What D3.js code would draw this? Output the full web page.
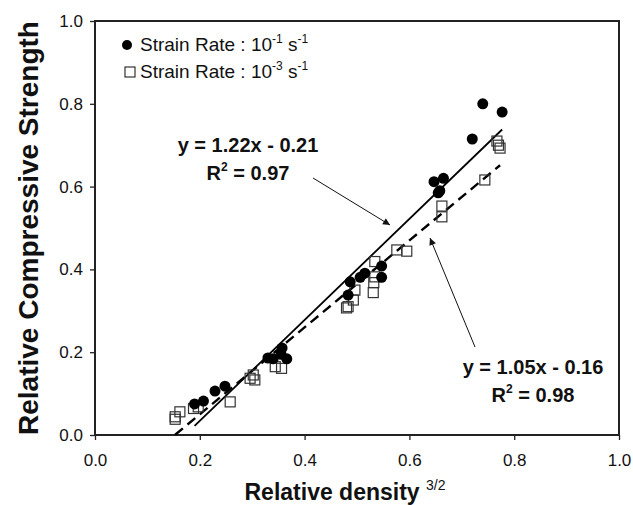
<!DOCTYPE html>
<html>
<head>
<meta charset="utf-8">
<script src="https://cdn.jsdelivr.net/npm/d3@7"></script>
<style>
  body { margin: 0; background: #fff; }
  svg { font-family: Arial, "Liberation Sans", sans-serif; }
</style>
</head>
<body>
<div id="grafico"></div>
<script>
// Strain rate 10^-1 s^-1 (filled circles)
const rapido = [
  [0.19,0.075],[0.207,0.082],[0.229,0.106],[0.248,0.118],[0.33,0.186],[0.34,0.184],
  [0.355,0.195],[0.357,0.21],[0.366,0.184],[0.483,0.338],[0.487,0.37],[0.506,0.381],
  [0.515,0.391],[0.547,0.408],[0.547,0.381],[0.655,0.585],[0.658,0.59],[0.647,0.612],
  [0.665,0.62],[0.72,0.715],[0.74,0.8],[0.777,0.78]
];
// Strain rate 10^-3 s^-1 (open squares)
const lento = [
  [0.153,0.038],[0.153,0.044],[0.162,0.056],[0.188,0.064],[0.197,0.068],[0.258,0.08],
  [0.296,0.137],[0.302,0.145],[0.305,0.133],[0.344,0.165],[0.356,0.161],[0.48,0.307],
  [0.483,0.31],[0.493,0.326],[0.496,0.35],[0.531,0.344],[0.532,0.368],[0.534,0.382],
  [0.534,0.419],[0.576,0.447],[0.595,0.444],[0.662,0.527],[0.662,0.553],[0.744,0.616],
  [0.767,0.71],[0.77,0.70],[0.773,0.693]
];
// trend lines: [slope, intercept, xStart, xEnd]
const ajusteRapido = [1.22, -0.21, 0.19, 0.777];
const ajusteLento = [1.05, -0.16, 0.153, 0.773];
const ticks = [0, 0.2, 0.4, 0.6, 0.8, 1.0];

const width = 633;
const height = 505;
const marginTop = 21;
const marginRight = 14;
const marginBottom = 70;
const marginLeft = 95;

const xScale = d3.scaleLinear().domain([0, 1]).range([marginLeft, width - marginRight]);
const yScale = d3.scaleLinear().domain([0, 1]).range([height - marginBottom, marginTop]);

const svg = d3.select("#grafico")
  .append("svg")
  .attr("width", width)
  .attr("height", height);

svg.append("defs").append("marker")
  .attr("id", "flecha")
  .attr("viewBox", "0 0 10 10")
  .attr("refX", 10).attr("refY", 5)
  .attr("markerWidth", 9).attr("markerHeight", 7)
  .attr("markerUnits", "userSpaceOnUse")
  .attr("orient", "auto")
  .append("path").attr("d", "M0,0 L10,5 L0,10 z").attr("fill", "#111");

// axes
const xAxis = d3.axisBottom(xScale).tickValues(ticks).tickFormat(d3.format(".1f"))
  .tickSize(5).tickSizeOuter(0).tickPadding(14);
const gx = svg.append("g")
  .attr("transform", `translate(0,${height - marginBottom})`)
  .call(xAxis);

const yAxis = d3.axisLeft(yScale).tickValues(ticks).tickFormat(d3.format(".1f"))
  .tickSize(5).tickSizeOuter(0).tickPadding(7);
const gy = svg.append("g")
  .attr("transform", `translate(${marginLeft},0)`)
  .call(yAxis);

[gx, gy].forEach(g => {
  g.select(".domain").remove();
  g.selectAll("line").attr("stroke", "#222").attr("stroke-width", 1.3);
  g.selectAll("text").attr("font-size", 17).attr("fill", "#111")
    .attr("font-family", "Arial, 'Liberation Sans', sans-serif");
});

// frame
svg.append("rect")
  .attr("x", marginLeft).attr("y", marginTop)
  .attr("width", width - marginRight - marginLeft)
  .attr("height", height - marginBottom - marginTop)
  .attr("fill", "none").attr("stroke", "#222").attr("stroke-width", 2);

// trend lines
const linea = (a) => [[a[2], a[0] * a[2] + a[1]], [a[3], a[0] * a[3] + a[1]]];
const trazo = d3.line().x(d => xScale(d[0])).y(d => yScale(d[1]));

svg.append("path").attr("d", trazo(linea(ajusteRapido)))
  .attr("stroke", "#000").attr("stroke-width", 1.8).attr("fill", "none");
svg.append("path").attr("d", trazo(linea(ajusteLento)))
  .attr("stroke", "#000").attr("stroke-width", 2.4).attr("fill", "none")
  .attr("stroke-dasharray", "10,6");

// squares
svg.selectAll("rect.lento")
  .data(lento)
  .enter()
  .append("rect")
  .attr("class", "lento")
  .attr("x", d => xScale(d[0]) - 5)
  .attr("y", d => yScale(d[1]) - 5)
  .attr("width", 10).attr("height", 10)
  .attr("fill", "none").attr("stroke", "#333").attr("stroke-width", 1.2);

// circles
svg.selectAll("circle.rapido")
  .data(rapido)
  .enter()
  .append("circle")
  .attr("class", "rapido")
  .attr("cx", d => xScale(d[0]))
  .attr("cy", d => yScale(d[1]))
  .attr("r", 5.5)
  .attr("fill", "#000");

// legend
svg.append("circle").attr("cx", 127).attr("cy", 45).attr("r", 5).attr("fill", "#000");
svg.append("rect").attr("x", 125).attr("y", 67).attr("width", 10).attr("height", 10)
  .attr("fill", "none").attr("stroke", "#333").attr("stroke-width", 1.2);

const leyenda = [["-1", "-1", 51], ["-3", "-1", 78]];
leyenda.forEach(([e1, e2, y]) => {
  const t = svg.append("text").attr("x", 140).attr("y", y).attr("font-size", 19).attr("fill", "#111");
  t.append("tspan").text("Strain Rate : 10");
  t.append("tspan").attr("font-size", 12).attr("dy", -8).text(e1);
  t.append("tspan").attr("dy", 8).text(" s");
  t.append("tspan").attr("font-size", 12).attr("dy", -8).text(e2);
});

// equations
const ecuaciones = [
  ["y = 1.22x - 0.21", "0.97", 248, 152],
  ["y = 1.05x - 0.16", "0.98", 533, 374]
];
ecuaciones.forEach(([eq, r2, cx, y]) => {
  svg.append("text").attr("x", cx).attr("y", y).attr("text-anchor", "middle")
    .attr("font-size", 20).attr("font-weight", "bold").attr("fill", "#111").text(eq);
  const t = svg.append("text").attr("x", cx).attr("y", y + 28).attr("text-anchor", "middle")
    .attr("font-size", 20).attr("font-weight", "bold").attr("fill", "#111");
  t.append("tspan").text("R");
  t.append("tspan").attr("font-size", 12).attr("dy", -9).text("2");
  t.append("tspan").attr("dy", 9).text(" = " + r2);
});

// arrows
svg.append("line").attr("x1", 313).attr("y1", 178).attr("x2", 390).attr("y2", 225)
  .attr("stroke", "#111").attr("stroke-width", 1).attr("marker-end", "url(#flecha)");
svg.append("line").attr("x1", 475).attr("y1", 347).attr("x2", 430).attr("y2", 238)
  .attr("stroke", "#111").attr("stroke-width", 1).attr("marker-end", "url(#flecha)");

// axis titles
const tx = svg.append("text").attr("x", 345).attr("y", 500).attr("text-anchor", "middle")
  .attr("font-size", 23).attr("font-weight", "bold").attr("fill", "#111");
tx.append("tspan").text("Relative density ");
tx.append("tspan").attr("font-size", 14).attr("font-weight", "normal").attr("dy", -10).text("3/2");

svg.append("text")
  .attr("transform", `translate(38,${(marginTop + height - marginBottom) / 2}) rotate(-90)`)
  .attr("text-anchor", "middle")
  .attr("font-size", 28).attr("font-weight", "bold").attr("fill", "#111")
  .text("Relative Compressive Strength");
</script>
</body>
</html>
